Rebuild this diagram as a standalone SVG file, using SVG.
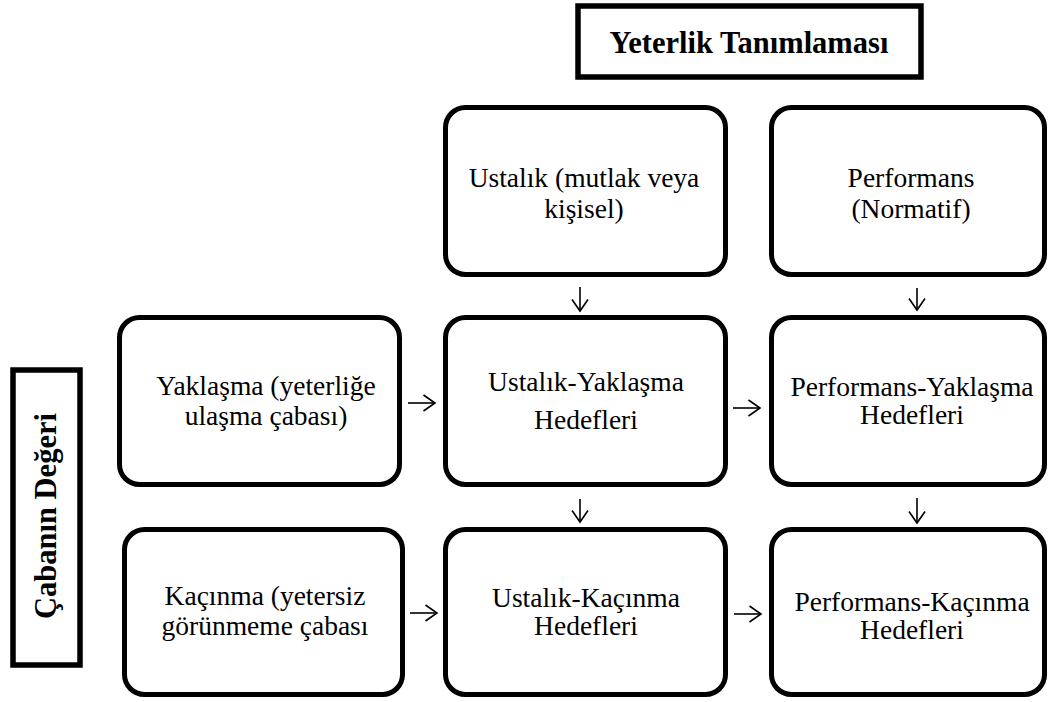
<svg xmlns="http://www.w3.org/2000/svg" width="1049" height="702" viewBox="0 0 1049 702">
<style>
text{font-family:'Liberation Serif',serif;fill:#000;text-anchor:middle}
.n{font-size:27.5px}
.b{font-size:30.5px;font-weight:bold}
.box{fill:#fff;stroke:#000;stroke-width:5.5}
.rbox{fill:#fff;stroke:#000;stroke-width:5}
.c{fill:none;stroke:#000;stroke-width:1.6}
</style>
<defs>
<marker id="ah" viewBox="0 0 14 18" refX="12.5" refY="9" markerWidth="14" markerHeight="18" markerUnits="userSpaceOnUse" orient="auto">
<path d="M1,1 L12.5,9 L1,17" fill="none" stroke="#000" stroke-width="1.6"/>
</marker>
</defs>
<rect width="1049" height="702" fill="#fff"/>
<g id="title">
<rect class="box" x="578" y="6" width="343" height="71"/>
<text class="b" x="749" y="53" font-family="Liberation Serif">Yeterlik Tanımlaması</text>
</g>
<g id="cabanin">
<rect class="box" x="13" y="370" width="67" height="295"/>
<text class="b" font-family="Liberation Serif" transform="translate(56,516) rotate(-90)">Çabanın Değeri</text>
</g>
<g id="ustalik">
<rect class="rbox" x="445.5" y="107.5" width="280" height="167" rx="20"/>
<text class="n" x="584" y="187" font-family="Liberation Serif">Ustalık (mutlak veya</text>
<text class="n" x="584" y="218" font-family="Liberation Serif">kişisel)</text>
</g>
<g id="performans">
<rect class="rbox" x="771.5" y="107.5" width="273" height="167" rx="20"/>
<text class="n" x="911" y="187" font-family="Liberation Serif">Performans</text>
<text class="n" x="911" y="218" font-family="Liberation Serif">(Normatif)</text>
</g>
<g id="yaklasma">
<rect class="rbox" x="119.5" y="317.5" width="280" height="167" rx="20"/>
<text class="n" x="266" y="395" font-family="Liberation Serif">Yaklaşma (yeterliğe</text>
<text class="n" x="266" y="425" font-family="Liberation Serif">ulaşma çabası)</text>
</g>
<g id="ustalik-yaklasma">
<rect class="rbox" x="445.5" y="317.5" width="280" height="167" rx="20"/>
<text class="n" x="586" y="391" font-family="Liberation Serif">Ustalık-Yaklaşma</text>
<text class="n" x="586" y="429" font-family="Liberation Serif">Hedefleri</text>
</g>
<g id="performans-yaklasma">
<rect class="rbox" x="771.5" y="317.5" width="273" height="167" rx="20"/>
<text class="n" x="912" y="396" font-family="Liberation Serif">Performans-Yaklaşma</text>
<text class="n" x="912" y="424" font-family="Liberation Serif">Hedefleri</text>
</g>
<g id="kacinma">
<rect class="rbox" x="124.5" y="529.5" width="278" height="165" rx="20"/>
<text class="n" x="265" y="605" font-family="Liberation Serif">Kaçınma (yetersiz</text>
<text class="n" x="265" y="635" font-family="Liberation Serif">görünmeme çabası</text>
</g>
<g id="ustalik-kacinma">
<rect class="rbox" x="445.5" y="529.5" width="280" height="165" rx="20"/>
<text class="n" x="586" y="607" font-family="Liberation Serif">Ustalık-Kaçınma</text>
<text class="n" x="586" y="635" font-family="Liberation Serif">Hedefleri</text>
</g>
<g id="performans-kacinma">
<rect class="rbox" x="771.5" y="529.5" width="273" height="165" rx="20"/>
<text class="n" x="912" y="611" font-family="Liberation Serif">Performans-Kaçınma</text>
<text class="n" x="912" y="639" font-family="Liberation Serif">Hedefleri</text>
</g>
<g id="connectors">
<line class="c" x1="580" y1="287" x2="580" y2="311" marker-end="url(#ah)"/>
<line class="c" x1="917" y1="288" x2="917" y2="310" marker-end="url(#ah)"/>
<line class="c" x1="580" y1="499" x2="580" y2="522" marker-end="url(#ah)"/>
<line class="c" x1="917" y1="498" x2="917" y2="523" marker-end="url(#ah)"/>
<line class="c" x1="408" y1="403" x2="435" y2="403" marker-end="url(#ah)"/>
<line class="c" x1="733" y1="408" x2="760" y2="408" marker-end="url(#ah)"/>
<line class="c" x1="410" y1="613" x2="437" y2="613" marker-end="url(#ah)"/>
<line class="c" x1="734" y1="614" x2="761" y2="614" marker-end="url(#ah)"/>
</g>
</svg>
